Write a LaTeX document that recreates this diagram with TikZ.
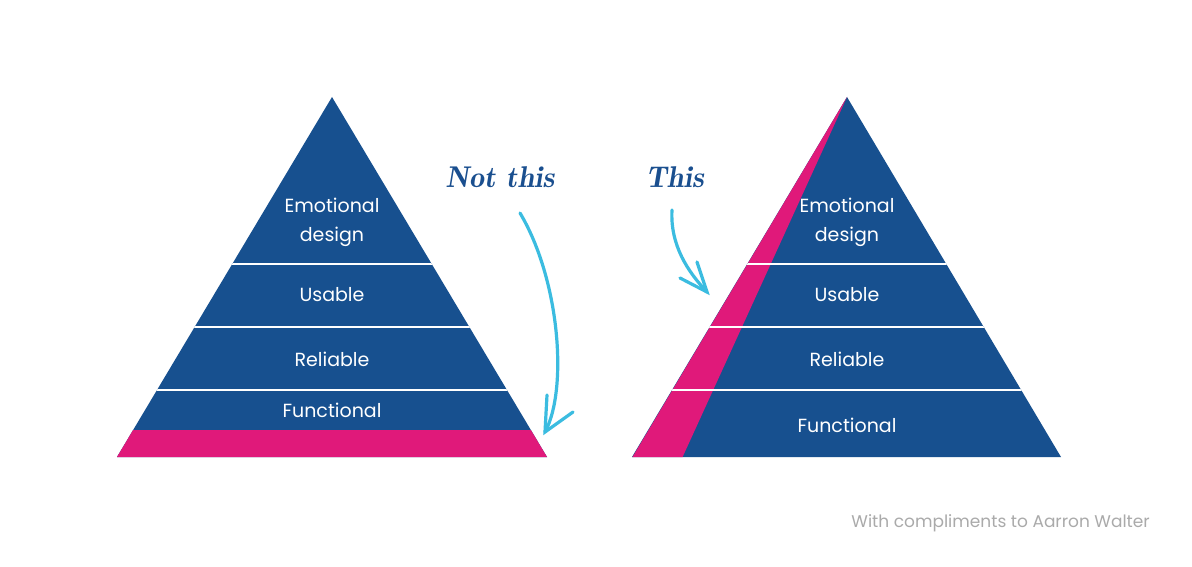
\documentclass[tikz,border=0pt]{standalone}
\usepackage{fontspec}
\setmainfont{Poppins}
\usetikzlibrary{arrows.meta}
\definecolor{pblue}{HTML}{17508F}
\definecolor{ppink}{HTML}{E0197A}
\definecolor{pcyan}{HTML}{3BBCE0}
\definecolor{hand}{HTML}{1A4F8F}
\definecolor{foot}{HTML}{AAAAAA}
\tikzset{
  lbl/.style={text=white, font=\fontsize{19}{29}\selectfont, align=center, inner sep=0pt},
  sep/.style={white, line width=2.5pt},
  handtxt/.style={text=hand, font=\fontfamily{lmr}\fontsize{30}{32}\selectfont\itshape\bfseries, inner sep=0pt},
  curvearrow/.style={pcyan, line width=3.2pt, line cap=round}
}
\begin{document}
\begin{tikzpicture}[x=1pt,y=-1pt]
\useasboundingbox (0,0) rectangle (1192,567);
\fill[white] (0,0) rectangle (1192,567);
% left pyramid
\begin{scope}
\clip (332,97) -- (117,457) -- (547,457) -- cycle;
\fill[pblue] (100,90) rectangle (560,460);
\fill[ppink] (100,430) rectangle (560,460);
\foreach \yy in {264,327,390} \draw[sep] (100,\yy) -- (560,\yy);
\end{scope}
% right pyramid
\begin{scope}
\clip (847,97) -- (632,457) -- (1061,457) -- cycle;
\fill[pblue] (620,90) rectangle (1070,460);
\fill[ppink] (847,97) -- (620,478) -- (673,478) -- cycle;
\foreach \yy in {264,327,390} \draw[sep] (620,\yy) -- (1070,\yy);
\end{scope}
% labels left
\node[lbl] (le) at (332,222) {Emotional\\design};
\node[lbl] (lu) at (332,295) {Usable};
\node[lbl] (lr) at (332,359) {Reliable};
\node[lbl] (lf) at (332,410) {Functional};
% labels right
\node[lbl] (re) at (847,222) {Emotional\\design};
\node[lbl] (ru) at (847,295) {Usable};
\node[lbl] (rr) at (847,359) {Reliable};
\node[lbl] (rf) at (847,425) {Functional};
% handwritten
\node[handtxt] (nt) at (500,177) {Not this};
\node[handtxt] (th) at (675,177) {This};
\coordinate (a1s) at (520,213);
\coordinate (a1e) at (545,432);
\coordinate (a1b) at (547,395);
\coordinate (a1c) at (573,412);
\coordinate (a2s) at (672,210);
\coordinate (a2e) at (707,292);
\coordinate (a2b) at (680,278);
\coordinate (a2c) at (697,262);
\draw[curvearrow] (a1s) .. controls (560,280) and (568,390) .. (a1e);
\draw[curvearrow, line join=miter] (a1b) -- (a1e) -- (a1c);
\draw[curvearrow] (a2s) .. controls (670,245) and (688,272) .. (a2e);
\draw[curvearrow, line join=miter] (a2b) -- (a2e) -- (a2c);
% footer
\node[text=foot, font=\fontsize{17}{19}\selectfont, anchor=east, inner sep=0pt] (ft) at (1150,523) {With compliments to Aarron Walter};
\end{tikzpicture}
\end{document}
